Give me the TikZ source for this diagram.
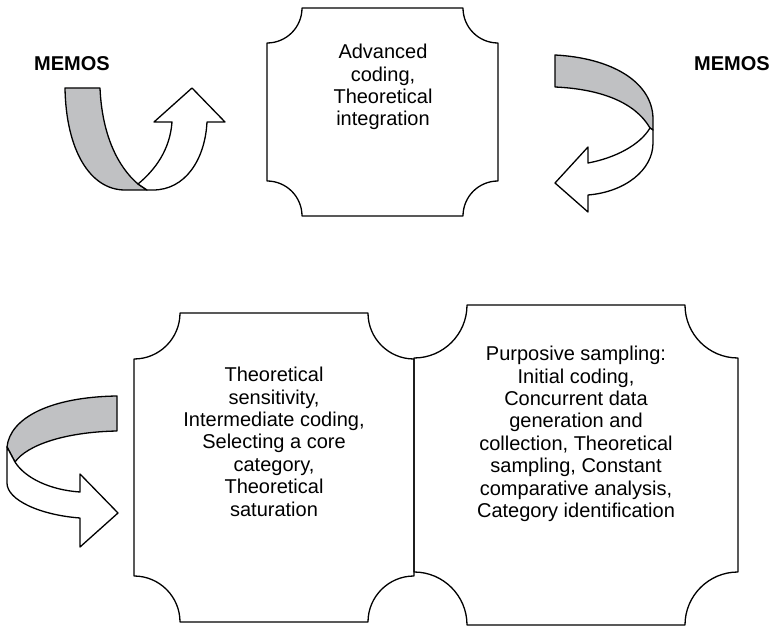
\documentclass[tikz,border=0pt]{standalone}
\usepackage{fontspec}
\setmainfont{Liberation Sans}
\definecolor{memogray}{RGB}{192,193,195}
\begin{document}
\begin{tikzpicture}[x=1pt,y=-1pt,
  outl/.style={draw=black,line width=1.3pt,line join=round},
  band/.style={outl,fill=memogray},
  front/.style={outl,fill=white},
  boxtext/.style={inner sep=0pt,align=center,font=\fontsize{20}{22.4}\selectfont,anchor=north},
  memo/.style={inner sep=0pt,font=\fontsize{20}{24}\selectfont\bfseries}]
\useasboundingbox (0,0) rectangle (771,628);
% plaque boxes
\draw[outl] (302,8) -- (463,8) arc[start angle=180,end angle=270,radius=35pt]
  -- (498,181) arc[start angle=90,end angle=180,radius=35pt]
  -- (302,216) arc[start angle=0,end angle=90,radius=35pt]
  -- (267,43) arc[start angle=270,end angle=360,radius=35pt] -- cycle;
\draw[outl] (180,313) -- (368,313) arc[start angle=180,end angle=270,radius=46pt]
  -- (414,576) arc[start angle=90,end angle=180,radius=46pt]
  -- (180,622) arc[start angle=0,end angle=90,radius=46pt]
  -- (134,359) arc[start angle=270,end angle=360,radius=46pt] -- cycle;
\draw[outl] (467,305) -- (685,305) arc[start angle=180,end angle=270,radius=53pt]
  -- (738,572) arc[start angle=90,end angle=180,radius=53pt]
  -- (467,625) arc[start angle=0,end angle=90,radius=53pt]
  -- (414,358) arc[start angle=270,end angle=360,radius=53pt] -- cycle;
% texts
\node[boxtext] (top) at (383,44) {Advanced\\coding,\\Theoretical\\integration};
\node[boxtext] (left) at (274,367) {Theoretical\\sensitivity,\\Intermediate coding,\\Selecting a core\\category,\\Theoretical\\saturation};
\node[boxtext] (right) at (576,346) {Purposive sampling:\\Initial coding,\\Concurrent data\\generation and\\collection, Theoretical\\sampling, Constant\\comparative analysis,\\Category identification};
\node[memo] (memoL) at (72,64) {MEMOS};
\node[memo] (memoR) at (732,64) {MEMOS};
% top-left arrow
\draw[band] (65,88) -- (100,88) .. controls (102,135) and (118,167) .. (138,184)
  -- (147,190) -- (125,190) .. controls (90,190) and (66,150) .. (65,88) -- cycle;
\draw[front] (138,184) -- (147,190) -- (153,190) .. controls (185,190) and (205,160) .. (207,122)
  -- (225,122) -- (192,88) -- (154,122) -- (172,122)
  .. controls (170,150) and (155,170) .. (138,184) -- cycle;
% top-right arrow
\draw[band] (555,55) .. controls (612,58) and (652,82) .. (653,118) -- (653,130)
  -- (650,128) .. controls (635,102) and (600,89) .. (555,87) -- cycle;
\draw[front] (650,128) -- (653,130) -- (653,143) .. controls (653,170) and (625,192) .. (588,195)
  -- (588,212) -- (555,183) -- (588,147) -- (588,163)
  .. controls (615,158) and (640,145) .. (650,128) -- cycle;
% bottom-left arrow
\draw[band] (117,396) -- (117,431) .. controls (65,432) and (27,445) .. (15,462)
  -- (7,447) .. controls (10,418) and (50,397) .. (117,396) -- cycle;
\draw[front] (7,447) -- (15,462) .. controls (25,478) and (50,490) .. (80,492)
  -- (80,474) -- (118,513) -- (80,547) -- (80,518)
  .. controls (40,515) and (7,500) .. (7,483) -- cycle;
\end{tikzpicture}
\end{document}
